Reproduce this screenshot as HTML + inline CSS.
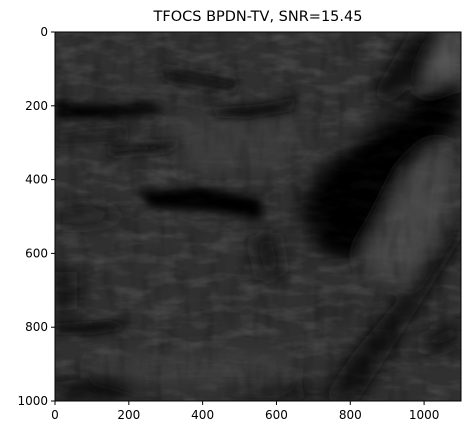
<!DOCTYPE html>
<html><head><meta charset="utf-8"><style>
html,body{margin:0;padding:0;background:#fff;}
svg{display:block;font-family:"DejaVu Sans","Liberation Sans",sans-serif;}
</style></head><body>
<svg width="474" height="435" viewBox="0 0 474 435">
<defs>
  <clipPath id="clip"><rect x="0" y="0" width="1100" height="1000"/></clipPath>
  <filter id="blur" x="-20%" y="-20%" width="140%" height="140%"><feGaussianBlur stdDeviation="24"/></filter>
  <filter id="blurS" x="-20%" y="-50%" width="140%" height="200%"><feGaussianBlur stdDeviation="12"/></filter>
  <filter id="tex" x="0" y="0" width="100%" height="100%">
    <feTurbulence type="fractalNoise" baseFrequency="0.012 0.035" numOctaves="3" seed="7"/>
    <feColorMatrix type="matrix" values="0 0 0 0 1  0 0 0 0 1  0 0 0 0 1  1.4 0 0 0 -0.6"/>
  </filter>
  <filter id="tex2" x="0" y="0" width="100%" height="100%">
    <feTurbulence type="fractalNoise" baseFrequency="0.03 0.01" numOctaves="2" seed="3"/>
    <feColorMatrix type="matrix" values="0 0 0 0 0  0 0 0 0 0  0 0 0 0 0  1.6 0 0 0 -0.75"/>
  </filter>
</defs>
<text x="258" y="21" text-anchor="middle" font-size="14.5" fill="#000">TFOCS BPDN-TV, SNR=15.45</text>
<g transform="translate(55,32) scale(0.36909,0.369)" clip-path="url(#clip)">
  <rect x="0" y="0" width="1100" height="1000" fill="#303030"/>
  <rect x="0" y="0" width="1100" height="1000" filter="url(#tex)" opacity="0.12"/>
  <g filter="url(#blur)">
    <path d="M1020,0 L1100,0 L1100,160 L1000,200 Z" fill="#585858"/>
    <path d="M880,380 L980,300 L1080,330 L1060,520 L960,680 L850,650 L820,560 Z" fill="#474747"/>
    <path d="M300,260 L600,180 L700,260 L600,380 L350,380 Z" fill="#3a3a3a"/>
    <path d="M100,880 L450,860 L650,880 L620,960 L120,960 Z" fill="#3a3a3a"/>
    <path d="M1100,120 L1100,240 L950,380 L880,520 L820,620 L720,600 L660,470 L740,360 L900,240 L1040,130 Z" fill="#060606"/>
    <path d="M960,0 L1060,0 L1000,120 L900,200 L860,170 Z" fill="#0c0c0c"/>
    <path d="M1100,470 L1100,560 L1000,720 L900,880 L820,1000 L720,1000 L800,880 L950,700 Z" fill="#080808"/>
    <path d="M0,650 L60,650 L60,750 L0,760 Z" fill="#0e0e0e"/>
    <path d="M0,950 L160,930 L300,1000 L0,1000 Z" fill="#0c0c0c"/>
    <path d="M530,560 L600,540 L620,650 L560,680 Z" fill="#161616"/>
    <path d="M500,980 L650,950 L720,1000 L480,1000 Z" fill="#111"/>
    <path d="M1000,820 L1100,770 L1100,840 L1000,880 Z" fill="#121212"/>
    <path d="M0,480 L100,470 L200,500 L100,520 L0,520 Z" fill="#1a1a1a"/>
  </g>
  <g filter="url(#blurS)">
    <path d="M0,185 L120,200 L250,190 L300,215 L150,235 L0,235 Z" fill="#050505"/>
    <path d="M420,205 L560,195 L660,175 L640,215 L520,235 L440,232 Z" fill="#0a0a0a"/>
    <path d="M220,430 L400,420 L560,450 L560,510 L420,485 L260,475 Z" fill="#050505"/>
    <path d="M0,790 L150,780 L220,800 L100,820 L0,820 Z" fill="#101010"/>
    <path d="M150,305 L350,295 L300,325 L150,335 Z" fill="#141414"/>
    <path d="M0,280 L200,260 L180,290 L0,300 Z" fill="#1a1a1a"/>
    <path d="M280,90 L500,130 L480,160 L300,130 Z" fill="#181818"/>
  </g>
  <rect x="0" y="0" width="1100" height="1000" filter="url(#tex2)" opacity="0.3"/>
  <rect x="0" y="0" width="1100" height="1000" filter="url(#tex)" opacity="0.06"/>
</g>
<rect x="55" y="32" width="406" height="369" fill="none" stroke="#000" stroke-width="1"/>
<g id="xt"></g>
<g id="yt"></g>
<script>
const xTicks = [0,200,400,600,800,1000];
const yTicks = [0,200,400,600,800,1000];
const xMax = 1100, yMax = 1000;
const L=55, R=461, T=32, B=401;
const ns="http://www.w3.org/2000/svg";
const xs=v=>L+(R-L)*v/xMax, ys=v=>T+(B-T)*v/yMax;
const xg=document.getElementById('xt'), yg=document.getElementById('yt');
xTicks.forEach(v=>{
  const l=document.createElementNS(ns,'line');
  l.setAttribute('x1',xs(v));l.setAttribute('x2',xs(v));l.setAttribute('y1',B);l.setAttribute('y2',B+4);l.setAttribute('stroke','#000');
  
  
  xg.appendChild(l);
  const t=document.createElementNS(ns,'text');
  t.setAttribute('x',xs(v));t.setAttribute('y',B+18);t.setAttribute('text-anchor','middle');t.setAttribute('font-size','12');
  t.textContent=v;
  
  
  xg.appendChild(t);
});
yTicks.forEach(v=>{
  const l=document.createElementNS(ns,'line');
  l.setAttribute('x1',L-4);l.setAttribute('x2',L);l.setAttribute('y1',ys(v));l.setAttribute('y2',ys(v));l.setAttribute('stroke','#000');
  
  
  yg.appendChild(l);
  const t=document.createElementNS(ns,'text');
  t.setAttribute('x',L-7);t.setAttribute('y',ys(v)+4);t.setAttribute('text-anchor','end');t.setAttribute('font-size','12');
  t.textContent=v;
  
  
  yg.appendChild(t);
});
</script>
</svg>
</body></html>
